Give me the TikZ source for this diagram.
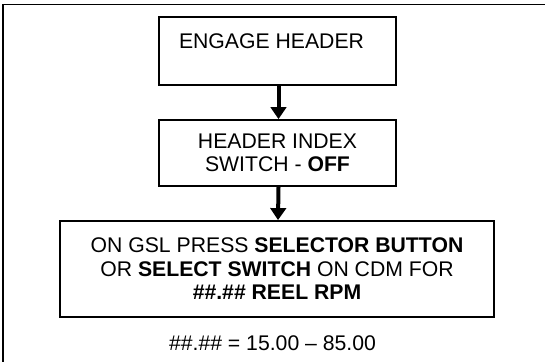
\documentclass[tikz,border=0pt]{standalone}
\usepackage{fontspec}
\setmainfont{Liberation Sans}
\usetikzlibrary{arrows.meta}
\begin{document}
\begin{tikzpicture}[x=1pt,y=-1pt,
  box/.style={draw, line width=1.8pt, inner sep=0pt, align=center,
    font=\fontsize{21.2}{23.5}\selectfont},
  flow/.style={line width=4pt, -{Triangle[width=15.5pt,length=12pt]}},
  plain/.style={inner sep=0pt, font=\fontsize{21.2}{23.5}\selectfont}]
\useasboundingbox (0,0) rectangle (545,362);
\fill[white] (0,0) rectangle (545,362);
% outer frame (cropped on right and bottom)
\coordinate (fr) at (545,4.5);
\coordinate (fc) at (3,4.5);
\coordinate (fb) at (3,362);
\draw[line width=1.8pt] (fr) -- (fc) -- (fb);
% boxes
\node[box, minimum width=237pt, minimum height=68pt] (b1) at (277.5,51) {};
\node[plain] (t1) at (271.5,41) {ENGAGE HEADER};
\node[box, minimum width=237pt, minimum height=66pt] (b2) at (277.5,153)
  {HEADER INDEX\\SWITCH - \textbf{OFF}};
\node[box, minimum width=434pt, minimum height=96pt] (b3) at (277,269)
  {ON GSL PRESS \textbf{SELECTOR BUTTON}\\OR \textbf{SELECT SWITCH} ON CDM FOR\\\textbf{\#\#.\#\# REEL RPM}};
\node[plain] (foot) at (272.5,343) {\#\#.\#\# = 15.00 – 85.00};
% connectors
\draw[flow] ([xshift=1pt]b1.south) -- ([xshift=1pt]b2.north);
\draw[flow] ([xshift=1pt]b2.south) -- ([xshift=1pt]b3.north);
\end{tikzpicture}
\end{document}
